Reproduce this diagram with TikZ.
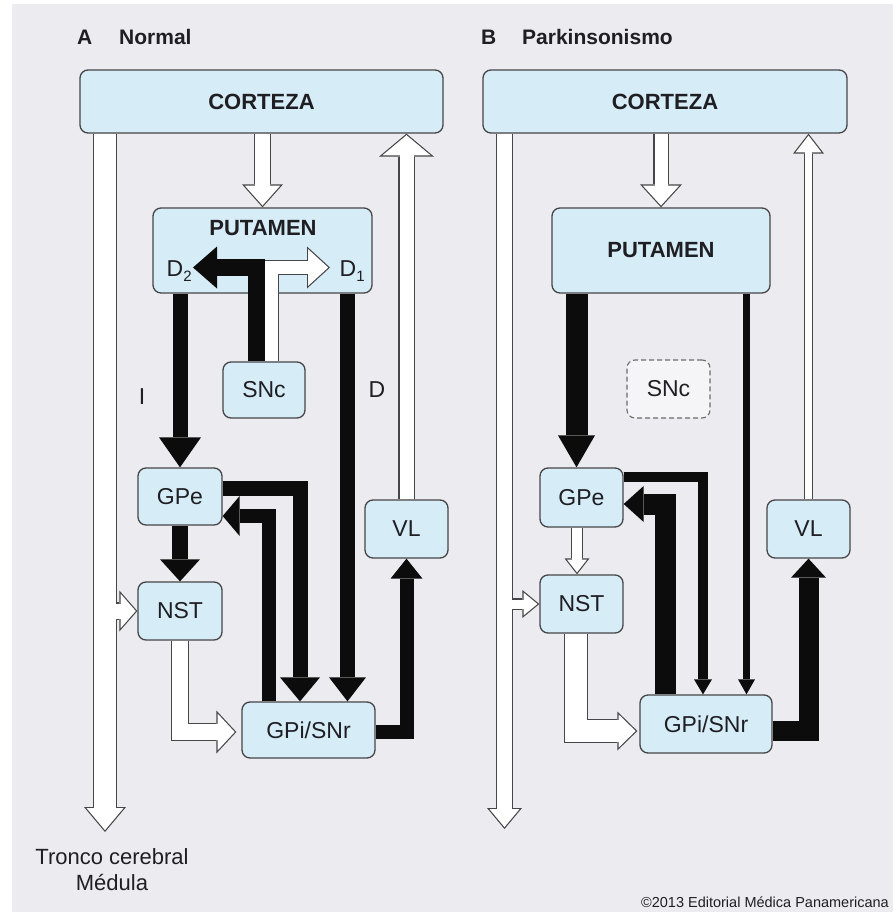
\documentclass[tikz,border=0pt]{standalone}
\usepackage{fontspec}
\setmainfont{Liberation Sans}
\usetikzlibrary{arrows.meta,calc}
\definecolor{bg}{RGB}{236,236,240}
\definecolor{boxc}{RGB}{214,236,247}
\definecolor{edge}{RGB}{70,70,72}
\definecolor{ink}{RGB}{12,12,12}
\definecolor{txt}{RGB}{30,30,35}
\newcommand\wout[4]{%
  \pgfmathsetmacro\wowid{#1+2.4}%
  \draw[line width=\wowid pt, draw=edge, -{Triangle[width=#2pt,length=#3pt,line width=0pt]}] #4;}
\newcommand\win[4]{%
  \pgfmathsetmacro\wihalf{#2/2}%
  \pgfmathsetmacro\wis{1.2*sqrt(\wihalf*\wihalf+#3*#3)/\wihalf}%
  \pgfmathsetmacro\wiL{#3-1.2-\wis}%
  \pgfmathsetmacro\wiW{#2*\wiL/#3}%
  \draw[line width=#1pt, draw=white, shorten >=\wis pt, -{Triangle[width=\wiW pt,length=\wiL pt,line width=0pt]}] #4;}
\newcommand\warrow[4]{\wout{#1}{#2}{#3}{#4}\win{#1}{#2}{#3}{#4}}
\tikzset{
  box/.style={draw=edge, line width=1.3pt, fill=boxc, rounded corners=8pt, inner sep=0pt,
    font=\fontsize{23}{27}\selectfont, text=txt},
  bigbox/.style={box, font=\fontsize{22}{26}\selectfont\bfseries},
  lbl/.style={font=\fontsize{23}{27}\selectfont, text=txt, inner sep=0pt},
  ttl/.style={font=\fontsize{21}{25}\selectfont\bfseries, text=txt, inner sep=0pt, anchor=base west},
  blk/.style n args={3}{line width=#1pt, draw=ink, -{Triangle[width=#2pt,length=#3pt,line width=0pt]}}
}
\begin{document}
\begin{tikzpicture}[x=1pt,y=-1pt]
\useasboundingbox (0,0) rectangle (893,912);
\fill[white] (0,0) rectangle (893,912);
\fill[bg] (12,4) rectangle (893,912);

% titles
\node[ttl] (tA) at (77,45) {A};
\node[ttl] (tAn) at (119,45) {Normal};
\node[ttl] (tB) at (481,45) {B};
\node[ttl] (tBn) at (522,45) {Parkinsonismo};

% ---------- panel A boxes ----------
\node[bigbox, minimum width=363pt, minimum height=63pt] (cortA) at (261.5,101.5) {CORTEZA};
\node[box, minimum width=219pt, minimum height=85pt] (putA) at (262.5,250.5) {};
\node[lbl, font=\fontsize{22}{26}\selectfont\bfseries] (putAt) at (263,228) {PUTAMEN};
\node[box, minimum width=82pt, minimum height=56pt] (sncA) at (264,390) {SNc};
\node[box, minimum width=84pt, minimum height=57pt] (gpeA) at (180,496.5) {GPe};
\node[box, minimum width=84pt, minimum height=58pt] (nstA) at (180,611) {NST};
\node[box, minimum width=133pt, minimum height=56pt] (gpiA) at (308.5,730) {GPi/SNr};
\node[box, minimum width=83pt, minimum height=58pt] (vlA) at (406.5,529) {VL};
\node[lbl] (lI) at (142,397) {I};
\node[lbl] (lD) at (377,390) {D};
\node[font=\fontsize{22}{26}\selectfont, text=txt, inner sep=0pt] (ltr) at (112,857) {Tronco cerebral};
\node[font=\fontsize{22}{26}\selectfont, text=txt, inner sep=0pt] (lmed) at (112,882) {Médula};

% ---------- panel B boxes ----------
\node[bigbox, minimum width=364pt, minimum height=63pt] (cortB) at (665,101.5) {CORTEZA};
\node[bigbox, minimum width=218pt, minimum height=85pt] (putB) at (661,250.5) {PUTAMEN};
\node[box, dashed, dash pattern=on 5pt off 3pt, draw=edge!80, line width=1.1pt, fill=bg!50!white, minimum width=83pt, minimum height=58pt] (sncB) at (668.5,389) {SNc};
\node[box, minimum width=83pt, minimum height=59pt] (gpeB) at (581.5,497.5) {GPe};
\node[box, minimum width=83pt, minimum height=58pt] (nstB) at (581.5,604) {NST};
\node[box, minimum width=132pt, minimum height=58pt] (gpiB) at (706,724) {GPi/SNr};
\node[box, minimum width=83pt, minimum height=58pt] (vlB) at (808.5,529) {VL};

\node[anchor=base east, font=\fontsize{14.5}{15}\selectfont, text=txt, inner sep=0pt] (copy) at (889,907) {©2013 Editorial Médica Panamericana};

% ---------- coordinates ----------
\coordinate (lAx) at (105,0);
\coordinate (lAend) at (105,832);
\coordinate (lBx) at (504.5,0);
\coordinate (lBend) at (504.5,829);
\coordinate (d1x) at (347.5,0);
\coordinate (gg1) at (300,488);
\coordinate (gg2) at (268.5,516);
\coordinate (ng) at (180,732);
\coordinate (s1) at (271.5,267.5);
\coordinate (s1t) at (330,267.5);
\coordinate (s2) at (256.5,267.5);
\coordinate (s2t) at (193,267.5);
\coordinate (pgx) at (576.5,0);
\coordinate (gnx) at (577,0);
\coordinate (gg1B) at (703,477);
\coordinate (pgi) at (746.5,0);
\coordinate (gg2B) at (665,504);
\coordinate (ngB) at (576,731);

% ---------- panel A arrows ----------
\warrow{15}{41}{23}{(putA.north |- cortA.south) -- (putA.north)}
\warrow{14}{55}{23}{(vlA.north) -- (vlA.north |- cortA.south)}
\wout{15}{41}{18}{(nstA.west -| lAx) -- (nstA.west)}
\warrow{22}{42}{25}{(cortA.south -| lAx) -- (lAend)}
\win{15}{41}{18}{(nstA.west -| lAx) -- (nstA.west)}
\warrow{16}{43}{20}{(nstA.south) |- ($(gpiA.west |- ng)+(-5,0)$)}

\draw[blk={15}{42}{30}] (putA.south -| gpeA.north) -- (gpeA.north);
\draw[blk={16}{40}{22}] (gpeA.south) -- (nstA.north);
\draw[blk={15}{37}{24}] (putA.south -| d1x) -- (gpiA.north -| d1x);
\draw[blk={15}{40}{24}] (gpeA.east |- gg1) -| (gpiA.north -| gg1);
\draw[blk={14}{40}{17}] (gpiA.north -| gg2) |- (gpeA.east |- gg2);
\draw[blk={14}{32}{20}] (gpiA.east |- ng) -| (vlA.south);

\warrow{13}{42}{23}{(sncA.north -| s1) |- (s1t)}
\draw[blk={17}{42}{24}] (sncA.north -| s2) |- (s2t);

\node[lbl, anchor=base west] (d2) at (166.5,276) {D\raisebox{-5pt}{\fontsize{15}{15}\selectfont 2}};
\node[lbl, anchor=base west] (d1) at (339.5,276) {D\raisebox{-5pt}{\fontsize{15}{15}\selectfont 1}};

% ---------- panel B arrows ----------
\warrow{13}{42}{23}{(putB.north |- cortB.south) -- (putB.north)}
\warrow{7}{31}{20}{(vlB.north) -- (vlB.north |- cortB.south)}
\wout{9}{28}{17}{(nstB.west -| lBx) -- (nstB.west)}
\warrow{15}{35}{21}{(cortB.south -| lBx) -- (lBend)}
\win{9}{28}{17}{(nstB.west -| lBx) -- (nstB.west)}
\warrow{10}{25}{16}{(gpeB.south -| gnx) -- (nstB.north -| gnx)}
\warrow{22}{39}{20}{(nstB.south -| ngB) |- ($(gpiB.west |- ngB)+(-2,0)$)}

\draw[blk={22}{37}{32}] (putB.south -| pgx) -- (gpeB.north -| pgx);
\draw[blk={10}{18}{15}] (gpeB.east |- gg1B) -| (gpiB.north -| gg1B);
\draw[blk={7}{17}{15}] (putB.south -| pgi) -- (gpiB.north -| pgi);
\draw[blk={21}{36}{20}] (gpiB.north -| gg2B) |- (gpeB.east |- gg2B);
\draw[blk={20}{35}{19}] (gpiB.east |- ngB) -| (vlB.south);
\end{tikzpicture}
\end{document}
